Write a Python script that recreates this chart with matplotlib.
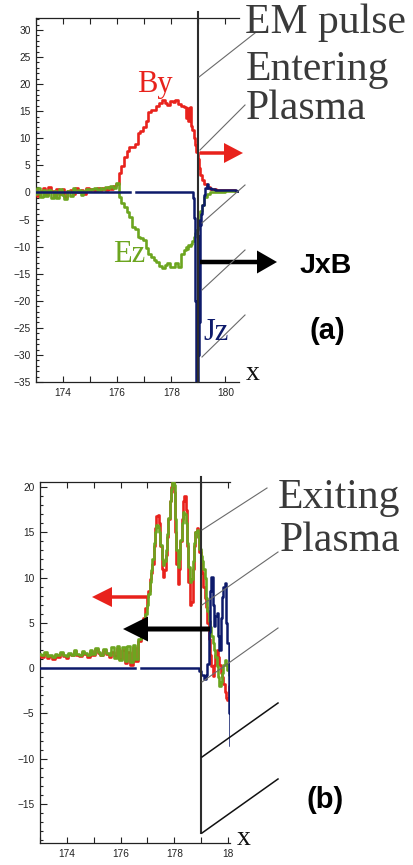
import matplotlib
matplotlib.use('Agg')

import matplotlib.pyplot as plt
import numpy as np
from matplotlib.patches import FancyArrow

# ---- panel (a): pulse entering the plasma ----
xa_lo = [173.0, 173.1, 173.2, 173.3, 173.4, 173.5, 173.6, 173.7, 173.8, 173.9,
         174.0, 174.1, 174.2, 174.3, 174.4, 174.5, 174.6, 174.7, 174.8, 174.9,
         175.0, 175.1, 175.2, 175.3, 175.4, 175.5, 175.6, 175.7, 175.8, 175.9, 176.0]
by_a_lo = [0.5, -0.6, 0.2, 0.9, -0.4, 1.0, 0.3, -0.8, 0.7, -0.2, 0.6, -0.9, 0.2, 0.5,
           -0.3, 0.9, 0.1, 0.4, -0.2, 0.8, 0.3, 0.6, 0.2, 0.9, 0.5, 0.8, 0.4, 1.0, 0.7, 1.2, 1.6]
ez_a_lo = [-0.3, 0.8, -0.9, 0.4, -0.6, 0.5, -1.1, 0.2, -1.0, 0.6, -0.4, -1.2, 0.3, -0.7,
           0.8, 0.1, 0.5, -0.4, 0.3, 0.7, 0.4, 0.6, 0.9, 0.5, 0.8, 0.7, 1.0, 0.8, 1.2, 0.9, 1.8]

xa_hi = [176.1, 176.2, 176.3, 176.4, 176.5, 176.6, 176.7, 176.8, 176.9, 177.0,
         177.1, 177.2, 177.3, 177.4, 177.5, 177.6, 177.7, 177.8, 177.9, 178.0,
         178.1, 178.2, 178.3, 178.4, 178.5, 178.55, 178.6, 178.65, 178.7, 178.75,
         178.8, 178.85, 178.9, 178.95, 179.0, 179.03, 179.08, 179.15, 179.25, 179.35,
         179.5, 179.8, 180.2, 180.5]
by_a_hi = [3.5, 4.8, 6.6, 7.6, 8.4, 8.4, 8.9, 10.9, 11.4, 12.1,
           13.2, 14.9, 15.2, 15.3, 16.0, 16.6, 17.1, 16.5, 16.2, 16.8,
           16.7, 17.1, 16.4, 16.0, 15.8, 13.8, 15.6, 13.2, 15.8, 12.3,
           11.5, 10.0, 8.8, 7.5, 6.2, 4.5, 3.2, 2.3, 1.6, 1.0,
           0.6, 0.4, 0.4, 0.3]
ez_a_hi = [-0.9, -2.0, -2.6, -3.6, -4.5, -6.3, -6.8, -8.2, -8.5, -8.8,
           -10.2, -11.4, -11.9, -12.4, -12.8, -13.6, -14.0, -13.4, -13.1, -13.8,
           -13.7, -13.0, -13.7, -11.3, -10.7, -10.0, -10.4, -9.7, -9.9, -9.6,
           -9.0, -8.2, -7.5, -7.0, -6.5, -5.0, -3.5, -2.3, -0.8, -0.2,
           0.0, 0.1, 0.2, 0.2]

xa_jz = [173.0, 176.45, 176.5, 176.9, 178.8, 178.82, 178.85, 178.88, 178.9, 178.92,
         178.94, 178.96, 178.98, 179.0, 179.02, 179.04, 179.06, 179.08, 179.1, 179.16,
         179.22, 179.3, 179.34, 179.4, 179.5, 179.7, 180.0, 180.3, 180.5]
jz_a = [0.0, 0.0, np.nan, 0.0, 0.0, -1.0, -4.8, -10.0, -20.0, -35.0,
        -28.0, -35.0, -18.0, -30.0, -8.0, -24.0, -5.0, -6.0, -4.0, -2.3,
        -0.5, 0.8, 1.5, 0.9, 0.6, 0.5, 0.4, 0.5, 0.3]

# ---- panel (b): pulse exiting the plasma ----
xb_lo = [173.0, 173.1, 173.2, 173.3, 173.4, 173.5, 173.6, 173.7, 173.8, 173.9,
         174.0, 174.1, 174.2, 174.3, 174.4, 174.5, 174.6, 174.7, 174.8, 174.9,
         175.0, 175.1, 175.2, 175.3, 175.4, 175.5, 175.6, 175.7, 175.8, 175.9,
         176.0, 176.1, 176.2, 176.3, 176.4, 176.5, 176.6, 176.7, 176.8]
by_b_lo = [1.4, 1.2, 1.6, 1.1, 1.3, 1.0, 1.5, 1.2, 1.7, 1.3, 1.1, 1.6, 1.4, 1.9, 1.5,
           1.3, 1.8, 1.6, 1.2, 1.9, 1.5, 2.1, 1.7, 1.4, 2.0, 1.6, 1.2, 1.8, 1.3, 2.2,
           1.0, 2.0, 0.6, 1.8, 0.4, 2.3, 0.8, 3.0, 4.5]
ez_b_lo = [1.6, 1.4, 1.8, 1.3, 1.5, 1.2, 1.6, 1.4, 1.8, 1.5, 1.3, 1.7, 1.5, 2.0, 1.6,
           1.5, 1.9, 1.7, 1.4, 2.0, 1.6, 2.2, 1.8, 1.5, 2.1, 1.7, 1.4, 2.3, 1.1, 2.4,
           0.9, 2.3, 0.8, 2.5, 0.7, 2.6, 1.0, 3.2, 4.2]

xb_hi = [176.9, 176.95, 177.0, 177.05, 177.1, 177.15, 177.2, 177.25, 177.3, 177.35,
         177.4, 177.45, 177.5, 177.55, 177.6, 177.65, 177.7, 177.75, 177.8, 177.85,
         177.9, 177.95, 178.0, 178.05, 178.1, 178.15, 178.2, 178.25, 178.3, 178.35,
         178.4, 178.45, 178.5, 178.55, 178.6, 178.65, 178.7, 178.75, 178.8, 178.85,
         178.9, 178.95, 179.0, 179.05, 179.1, 179.15, 179.2, 179.25, 179.3, 179.35,
         179.4, 179.45, 179.5, 179.55, 179.6, 179.65, 179.7, 179.75, 179.8, 179.85,
         179.9, 179.95, 180.0, 180.05, 180.07]
by_b_hi = [5.5, 6.6, 7.9, 8.5, 9.8, 10.5, 11.5, 13.5, 15.5, 16.8,
           16.9, 16.0, 13.5, 11.0, 10.1, 10.8, 12.5, 14.5, 16.5, 18.5,
           20.0, 20.4, 19.5, 15.0, 11.5, 9.3, 11.0, 14.0, 16.5, 18.5,
           19.0, 17.5, 13.5, 9.5, 7.0, 7.3, 11.0, 13.5, 15.0, 15.5,
           14.5, 12.8, 11.5, 10.5, 9.0, 7.8, 6.8, 5.0, 3.2, 1.5,
           0.2, -0.9, 0.3, 1.5, 2.0, 1.2, 0.3, -0.5, -1.0, -1.8,
           -2.6, -3.3, -3.5, -2.0, -1.0]
ez_b_hi = [4.8, 6.0, 7.0, 8.2, 9.5, 10.8, 12.0, 13.8, 15.0, 15.8,
           15.6, 15.0, 13.6, 12.0, 11.4, 11.8, 13.0, 14.8, 16.6, 18.5,
           19.8, 20.6, 20.2, 16.5, 13.0, 11.2, 12.0, 14.2, 16.0, 17.2,
           17.0, 16.0, 13.8, 11.2, 9.5, 9.8, 11.8, 13.8, 15.0, 15.3,
           14.5, 13.2, 12.4, 11.8, 11.0, 10.0, 7.8, 6.3, 5.2, 4.5,
           3.6, 2.8, 2.0, 1.2, 0.2, -1.0, -2.0, -1.5, -0.5, 0.3,
           0.9, 0.5, -0.2, -0.8, -1.0]

xb_jz = [173.0, 176.5, 176.55, 176.96, 178.85, 178.95, 179.05, 179.15, 179.2, 179.25,
         179.3, 179.35, 179.4, 179.45, 179.5, 179.55, 179.6, 179.65, 179.7, 179.75,
         179.8, 179.85, 179.9, 179.95, 180.0, 180.03, 180.05, 180.07]
jz_b = [0.0, 0.0, np.nan, 0.0, 0.0, -0.3, -0.8, -1.2, -0.8, 0.5,
        4.0, 8.5, 10.1, 7.0, 4.6, 5.8, 6.1, 3.5, 2.0, 5.5,
        7.9, 9.0, 9.4, 5.0, 2.8, -2.1, -5.0, -8.5]

x_front = 179.0

red = '#e8221c'
green = '#6ca51f'
navy = '#0d1a6b'
front_col = '#2d2d2d'
serif = 'Liberation Serif'
sans = 'Liberation Sans'

W, H = 414, 865
fig = plt.figure(figsize=(W / 100, H / 100), dpi=100)
fig.patch.set_facecolor('white')


def px_box(left, top, right, bottom):
    return [left / W, 1 - bottom / H, (right - left) / W, (bottom - top) / H]


def style_axes(ax, xlim, ylim, xticks, xlabels, yticks):
    ax.set_xlim(*xlim)
    ax.set_ylim(*ylim)
    ax.set_xticks(xticks)
    ax.set_xticklabels(xlabels)
    ax.set_xticks(np.arange(173, 181, 1), minor=True)
    ax.set_yticks(yticks)
    ax.set_yticklabels([str(t).replace('-', '\u2212') for t in yticks])
    ax.set_yticks(np.arange(yticks[0] - 5, yticks[-1] + 5, 1), minor=True)
    ax.set_ylim(*ylim)
    ax.spines['right'].set_visible(False)
    for s in ['left', 'top', 'bottom']:
        ax.spines[s].set_linewidth(0.9)
        ax.spines[s].set_color('#222222')
    ax.tick_params(which='both', direction='in', top=True, right=False,
                   width=0.8, color='#222222', labelsize=7.3, labelcolor='#222222')
    ax.tick_params(axis='y', which='major', length=5, pad=4)
    ax.tick_params(axis='y', which='minor', length=2.5)
    ax.tick_params(axis='x', which='both', length=4.5, pad=4)
    for lab in ax.get_xticklabels() + ax.get_yticklabels():
        lab.set_fontfamily(sans)


def draw_fields(ax, x_lo, by_lo, ez_lo, x_hi, by_hi, ez_hi, xj, jz):
    ax.plot(x_lo + x_hi, by_lo + by_hi, color=red, lw=1.9, drawstyle='steps-mid', zorder=3)
    ax.plot(x_lo + x_hi, ez_lo + ez_hi, color=green, lw=1.9, drawstyle='steps-mid', zorder=4)
    ax.plot(xj, jz, color=navy, lw=1.8, drawstyle='steps-mid', zorder=5)


# panel (a)
ax1 = fig.add_axes(px_box(36, 18, 239, 382))
draw_fields(ax1, xa_lo, by_a_lo, ez_a_lo, xa_hi, by_a_hi, ez_a_hi, xa_jz, jz_a)
style_axes(ax1, (173.0, 180.5), (-35, 32.2), [174, 176, 178, 180],
           ['174', '176', '178', '180'], list(range(-35, 31, 5)))
ax1.plot([x_front, x_front], [-35, 33.3], color=front_col, lw=1.5, zorder=6, clip_on=False)

# panel (b)
ax2 = fig.add_axes(px_box(40, 482, 230, 843))
draw_fields(ax2, xb_lo, by_b_lo, ez_b_lo, xb_hi, by_b_hi, ez_b_hi, xb_jz, jz_b)
style_axes(ax2, (173.04, 180.07), (-19.3, 20.55), [174, 176, 178, 180],
           ['174', '176', '178', '18'], list(range(-15, 21, 5)))
ax2.plot([x_front, x_front], [-18.2, 21.1], color=front_col, lw=1.5, zorder=6, clip_on=False)

# overlay in pixel units for the labels, guide lines and arrows
ov = fig.add_axes([0, 0, 1, 1], zorder=10)
ov.set_xlim(0, W)
ov.set_ylim(H, 0)
ov.axis('off')
ov.patch.set_alpha(0)

text_grey = '#3a3a3a'
ov.text(245, 33, 'EM pulse', family=serif, fontsize=30, color=text_grey, va='baseline')
ov.text(246, 80, 'Entering', family=serif, fontsize=30, color=text_grey, va='baseline')
ov.text(246, 119, 'Plasma', family=serif, fontsize=30, color=text_grey, va='baseline')
ov.text(137, 92, 'By', family=serif, fontsize=22, color=red, va='baseline')
ov.text(113, 262, 'Ez', family=serif, fontsize=22, color=green, va='baseline')
ov.text(203, 340, 'Jz', family=serif, fontsize=22, color=navy, va='baseline')
ov.text(246, 380, 'x', family=serif, fontsize=20, color='#111111', va='baseline')
ov.text(300, 273, 'JxB', family=sans, fontsize=20.5, weight='bold', color='black', va='baseline')
ov.text(310, 339, '(a)', family=sans, fontsize=21, weight='bold', color='black', va='baseline')

ov.text(278, 508, 'Exiting', family=serif, fontsize=30, color=text_grey, va='baseline')
ov.text(280, 551, 'Plasma', family=serif, fontsize=30, color=text_grey, va='baseline')
ov.text(237, 845, 'x', family=serif, fontsize=20, color='#111111', va='baseline')
ov.text(307, 808, '(b)', family=sans, fontsize=21, weight='bold', color='black', va='baseline')

# thin perspective guide lines
guides_a = [((199, 77), (255, 33)), ((200, 150), (245, 105)), ((202, 223), (245, 185)),
            ((202, 290), (245, 250)), ((202, 357), (245, 315))]
for (x0, y0), (x1, y1) in guides_a:
    ov.plot([x0, x1], [y0, y1], color='#6a6a6a', lw=0.8)
guides_b = [((202, 530), (267, 488)), ((202, 605), (278, 552)), ((202, 682), (278, 628))]
for (x0, y0), (x1, y1) in guides_b:
    ov.plot([x0, x1], [y0, y1], color='#6a6a6a', lw=0.8)
for (x0, y0), (x1, y1) in [((202, 757), (278, 703)), ((202, 833), (278, 779))]:
    ov.plot([x0, x1], [y0, y1], color='#111111', lw=1.1)

# arrows
ov.add_patch(FancyArrow(200, 153, 43, 0, width=3.5, head_width=20, head_length=19,
                        length_includes_head=True, color=red, lw=0))
ov.add_patch(FancyArrow(200, 262, 77, 0, width=4.5, head_width=23, head_length=20,
                        length_includes_head=True, color='black', lw=0))
ov.add_patch(FancyArrow(147, 597, -55, 0, width=3.5, head_width=20, head_length=20,
                        length_includes_head=True, color=red, lw=0))
ov.add_patch(FancyArrow(210, 629, -87, 0, width=5, head_width=25, head_length=25,
                        length_includes_head=True, color='black', lw=0))

fig.savefig('out.png', dpi=100)
